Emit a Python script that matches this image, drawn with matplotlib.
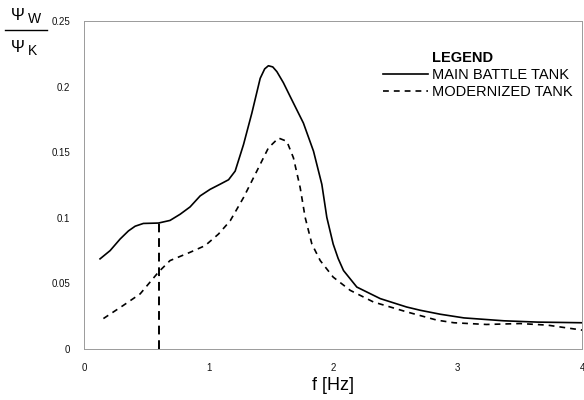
import matplotlib
matplotlib.use("Agg")
import matplotlib.pyplot as plt
from matplotlib.lines import Line2D

plt.rcParams['font.family'] = ['Liberation Sans', 'DejaVu Sans']

# main battle tank (solid)
f_main = [0.128, 0.209, 0.289, 0.356, 0.41, 0.476, 0.597, 0.69, 0.771, 0.851,
          0.932, 1.012, 1.09, 1.16, 1.213, 1.28, 1.347, 1.414, 1.45, 1.48,
          1.515, 1.548, 1.60, 1.655, 1.761, 1.842, 1.909, 1.949, 2.0, 2.04,
          2.083, 2.19, 2.378, 2.59, 2.7, 2.86, 3.05, 3.37, 3.64, 4.0]
y_main = [0.0687, 0.075, 0.0838, 0.090, 0.0936, 0.0957, 0.096, 0.098, 0.1027,
          0.1083, 0.1167, 0.1217, 0.1255, 0.129, 0.1356, 0.1558, 0.1798,
          0.2063, 0.2135, 0.2159, 0.2150, 0.2114, 0.2030, 0.1924, 0.1722,
          0.1508, 0.1255, 0.1003, 0.080, 0.0690, 0.0598, 0.0472, 0.0384,
          0.032, 0.0295, 0.0265, 0.0237, 0.0215, 0.0205, 0.020]

# modernized tank (dashed)
f_mod = [0.155, 0.316, 0.45, 0.597, 0.69, 0.851, 0.972, 1.079, 1.173, 1.28,
         1.387, 1.48, 1.561, 1.628, 1.681, 1.735, 1.775, 1.829, 1.896, 2.0,
         2.137, 2.324, 2.59, 2.833, 2.97, 3.23, 3.5, 3.72, 4.0]
y_mod = [0.0232, 0.0333, 0.042, 0.0586, 0.0674, 0.0737, 0.0788, 0.0876,
         0.0977, 0.1154, 0.1356, 0.1533, 0.1608, 0.1583, 0.1457, 0.1230,
         0.1003, 0.080, 0.0674, 0.0548, 0.0447, 0.0358, 0.0283, 0.022,
         0.020, 0.0187, 0.0194, 0.0182, 0.0144]

# marker line at f = 0.6
f_mark = 0.6
y_mark = 0.096

xticks = [0, 1, 2, 3, 4]
yticks = [0, 0.05, 0.1, 0.15, 0.2, 0.25]
ytick_labels = ['0', '0.05', '0.1', '0.15', '0.2', '0.25']

fig = plt.figure(figsize=(5.84, 4.0), dpi=100)
ax = fig.add_axes([0.144, 0.1275, 0.853, 0.82])

ax.plot(f_main, y_main, color='black', lw=1.2, label='MAIN BATTLE TANK',
        solid_joinstyle='round')
ax.plot(f_mod, y_mod, color='black', lw=1.2, dashes=(3.5, 3),
        label='MODERNIZED TANK')
ax.plot([f_mark, f_mark], [0, y_mark], color='black', lw=1.4, dashes=(4.5, 3))

ax.set_xlim(0, 4)
ax.set_ylim(0, 0.25)
ax.set_xticks(xticks)
ax.set_yticks(yticks)
ax.set_yticklabels(ytick_labels)
ax.tick_params(length=0, labelsize=7, colors='#111111')
ax.tick_params(axis='y', pad=10)
ax.tick_params(axis='x', pad=10)
for sp in ax.spines.values():
    sp.set_color('#9a9a9a')
    sp.set_linewidth(0.7)
ax.set_xlabel('f [Hz]', fontsize=13, labelpad=3)

leg = ax.legend(loc='upper left', bbox_to_anchor=(0.600, 0.857), frameon=False,
                fontsize=10.5, handlelength=3.1, handletextpad=0.27,
                labelspacing=0.2, borderpad=0, borderaxespad=0)
ax.text(0.699, 0.888, 'LEGEND', transform=ax.transAxes, fontsize=10.5,
        fontweight='bold', va='center', ha='left')

# y-axis label as a fraction
fig.text(0.019, 0.950, 'Ψ', fontsize=12, ha='left', va='baseline')
fig.text(0.048, 0.9425, 'W', fontsize=10, ha='left', va='baseline')
fig.text(0.019, 0.870, 'Ψ', fontsize=12, ha='left', va='baseline')
fig.text(0.048, 0.8625, 'K', fontsize=10, ha='left', va='baseline')
fig.add_artist(Line2D([0.009, 0.081], [0.925, 0.925], color='black', lw=1.0,
                      transform=fig.transFigure))

fig.savefig('out.png', dpi=100)
